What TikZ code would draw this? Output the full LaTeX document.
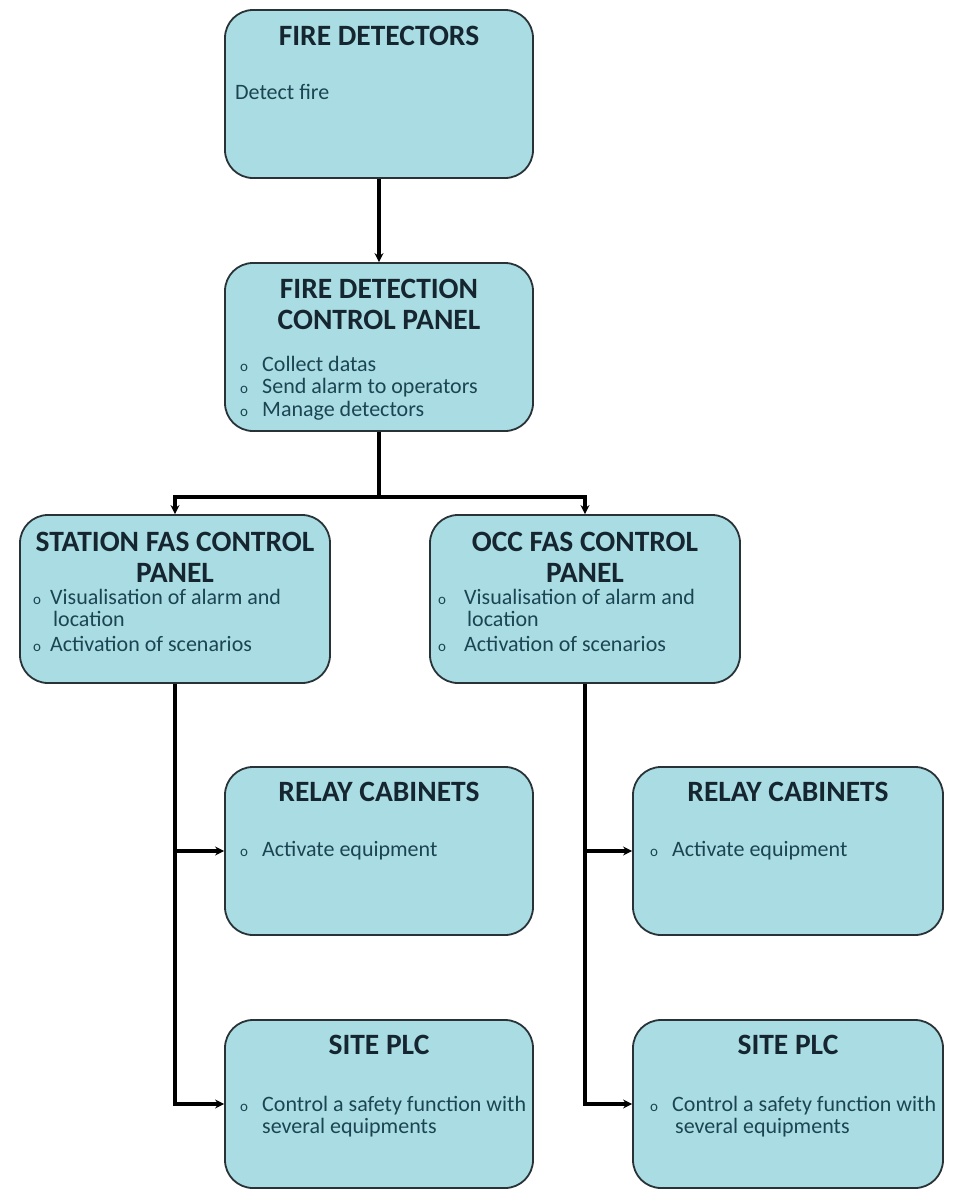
\documentclass[tikz,border=0pt]{standalone}
\usepackage{fontspec}
\setmainfont{Carlito}
\usetikzlibrary{arrows.meta}
\definecolor{boxfill}{RGB}{170,221,227}
\definecolor{boxline}{RGB}{40,50,55}
\definecolor{titlecol}{RGB}{22,38,48}
\definecolor{bodycol}{RGB}{28,68,82}
\begin{document}
\begin{tikzpicture}[x=1pt,y=-1pt,
 panel/.style={draw=boxline, line width=1.8pt, fill=boxfill, rounded corners=28pt, minimum width=308pt, minimum height=168pt, inner sep=0pt},
 ttl/.style={font=\fontsize{29.5}{31}\selectfont\bfseries, text=titlecol, align=center, inner sep=0pt},
 body/.style={font=\fontsize{22}{22}\selectfont, text=bodycol, anchor=base west, inner sep=0pt},
 blt/.style={font=\fontsize{15}{16}\selectfont, text=bodycol, anchor=base west, inner sep=0pt},
 conn/.style={line width=3.2pt, draw=black},
 arr/.style={conn, -{Stealth[length=9pt,width=9pt]}}
]
\useasboundingbox[fill=white] (0,0) rectangle (965,1203);

% boxes
\node[panel] (b1) at (379,94) {};
\node[panel] (b2) at (379,347) {};
\node[panel, minimum width=310pt] (b3) at (175,599) {};
\node[panel, minimum width=310pt] (b4) at (585,599) {};
\node[panel] (rL) at (379,851) {};
\node[panel, minimum width=310pt] (rR) at (788,851) {};
\node[panel] (pL) at (379,1104) {};
\node[panel, minimum width=310pt] (pR) at (788,1104) {};

% texts box 1
\node[ttl] (t1) at (379,36) {FIRE DETECTORS};
\node[body] (d1) at (235,99) {Detect fire};

% box 2
\node[ttl] (t2) at (379,304) {FIRE DETECTION\\CONTROL PANEL};
\node[blt] (o21) at (240,371) {o};
\node[body] (l21) at (262,371) {Collect datas};
\node[blt] (o22) at (240,393) {o};
\node[body] (l22) at (262,393) {Send alarm to operators};
\node[blt] (o23) at (240,416) {o};
\node[body] (l23) at (262,416) {Manage detectors};

% box 3
\node[ttl] (t3) at (175,557) {STATION FAS CONTROL\\PANEL};
\node[blt] (o31) at (33,604) {o};
\node[body] (l31) at (50,604) {Visualisation of alarm and};
\node[body] (l31b) at (53,626) {location};
\node[blt] (o32) at (33,651) {o};
\node[body] (l32) at (50,651) {Activation of scenarios};

% box 4
\node[ttl] (t4) at (585,557) {OCC FAS CONTROL\\PANEL};
\node[blt] (o41) at (438,604) {o};
\node[body] (l41) at (464,604) {Visualisation of alarm and};
\node[body] (l41b) at (467,626) {location};
\node[blt] (o42) at (438,651) {o};
\node[body] (l42) at (464,651) {Activation of scenarios};

% relay cabinets
\node[ttl] (t5) at (379,792) {RELAY CABINETS};
\node[blt] (o5) at (240,856) {o};
\node[body] (l5) at (262,856) {Activate equipment};
\node[ttl] (t6) at (788,792) {RELAY CABINETS};
\node[blt] (o6) at (650,856) {o};
\node[body] (l6) at (672,856) {Activate equipment};

% site plc
\node[ttl] (t7) at (379,1045) {SITE PLC};
\node[blt] (o7) at (240,1111) {o};
\node[body] (l7) at (262,1111) {Control a safety function with};
\node[body] (l7b) at (262,1133) {several equipments};
\node[ttl] (t8) at (788,1045) {SITE PLC};
\node[blt] (o8) at (650,1111) {o};
\node[body] (l8) at (672,1111) {Control a safety function with};
\node[body] (l8b) at (675,1133) {several equipments};

% connectors
\coordinate (j) at (379,497);
\draw[arr] (b1) -- (b2);
\draw[conn] (b2.south) -- (j);
\draw[arr] (j) -| (b3.north);
\draw[arr] (j) -| (b4.north);
\draw[arr] (b3.south) |- (rL.west);
\draw[arr] (b3.south) |- (pL.west);
\draw[arr] (b4.south) |- (rR.west);
\draw[arr] (b4.south) |- (pR.west);
\end{tikzpicture}
\end{document}
